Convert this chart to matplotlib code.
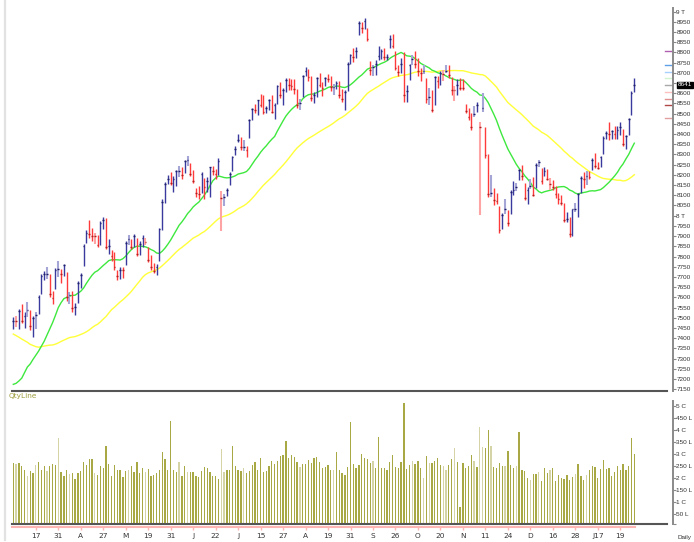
import numpy as np
import matplotlib
matplotlib.use("Agg")
import matplotlib.pyplot as plt
from matplotlib.transforms import blended_transform_factory
import pandas as pd

# ---------------- data (Nifty daily, Mar 2016 - Jan 2017) ----------------
prior_close = [7861, 7925, 7928, 7896, 7946,
               7963, 7791, 7784, 7741, 7568, 7601, 7563, 7510, 7562, 7536,
               7438, 7351, 7435, 7309, 7276, 7422, 7436, 7437, 7424, 7564,
               7555, 7455, 7362, 7404, 7489, 7387, 7298, 7216, 6976, 6981,
               7163, 7049, 7109, 7192, 7211, 7235, 7110, 7019, 6971, 7029, 6987,
               7222, 7368, 7475]

open_ = [7469, 7484, 7461, 7555, 7487, 7562, 7522, 7448, 7521, 7530,
         7628, 7686, 7731, 7708, 7626, 7648, 7753, 7718, 7715, 7720,
         7617, 7615, 7522, 7588, 7674, 7752, 7888, 7939, 7924, 7883,
         7902, 7860, 7975, 7981, 7831, 7823, 7802, 7732, 7710, 7734,
         7760, 7897, 7885, 7857, 7886, 7810, 7872, 7868, 7847, 7783,
         7766, 7736, 7781, 7956, 8076, 8166, 8188, 8163, 8158, 8233,
         8235, 8217, 8277, 8257, 8191, 8125, 8122, 8120, 8175, 8139,
         8102, 8238, 8216, 8202, 8010, 8096, 8109, 8151, 8227, 8313,
         8364, 8379, 8362, 8336, 8379, 8473, 8540, 8519, 8593, 8565,
         8520, 8541, 8588, 8503, 8559, 8654, 8590, 8620, 8674, 8653,
         8636, 8620, 8556, 8585, 8697, 8716, 8677, 8580, 8597, 8696,
         8638, 8643, 8678, 8668, 8642, 8647, 8662, 8614, 8565, 8613,
         8754, 8793, 8796, 8883, 8935, 8931, 8916, 8732, 8737, 8743,
         8780, 8789, 8806, 8776, 8819, 8857, 8807, 8737, 8716, 8792,
         8581, 8666, 8770, 8806, 8750, 8721, 8735, 8671, 8604, 8612,
         8547, 8679, 8670, 8683, 8719, 8722, 8670, 8608, 8625, 8672,
         8653, 8542, 8499, 8504, 8535, 8540, 8067, 8555, 8409, 8301,
         8162, 8111, 8106, 8033, 7935, 8051, 8012, 8020, 8112, 8143,
         8182, 8244, 8154, 8088, 8153, 8168, 8153, 8271, 8231, 8196,
         8197, 8128, 8156, 8121, 8089, 8103, 8044, 7982, 7985, 7915,
         8047, 8036, 8119, 8210, 8196, 8202, 8227, 8281, 8260, 8262,
         8300, 8406, 8457, 8410, 8415, 8404, 8419, 8412, 8329, 8402,
         8499, 8614]

high = [7504, 7511, 7542, 7570, 7526, 7576, 7538, 7507, 7530, 7613,
        7713, 7728, 7749, 7716, 7631, 7742, 7777, 7740, 7765, 7725,
        7624, 7631, 7571, 7679, 7717, 7860, 7932, 7978, 7939, 7916,
        7904, 7972, 7992, 7991, 7886, 7833, 7823, 7733, 7749, 7749,
        7874, 7907, 7888, 7911, 7893, 7874, 7904, 7892, 7848, 7808,
        7768, 7764, 7941, 8084, 8165, 8200, 8213, 8196, 8226, 8245,
        8237, 8274, 8293, 8260, 8224, 8137, 8143, 8216, 8187, 8189,
        8238, 8244, 8228, 8283, 8120, 8105, 8136, 8212, 8294, 8339,
        8398, 8385, 8369, 8340, 8474, 8527, 8548, 8569, 8594, 8590,
        8539, 8570, 8590, 8551, 8642, 8656, 8626, 8674, 8675, 8670,
        8671, 8620, 8570, 8689, 8728, 8718, 8684, 8605, 8679, 8697,
        8653, 8681, 8696, 8684, 8647, 8661, 8662, 8622, 8615, 8755,
        8792, 8820, 8824, 8953, 8947, 8968, 8920, 8758, 8740, 8764,
        8829, 8816, 8819, 8791, 8883, 8889, 8809, 8739, 8770, 8800,
        8638, 8745, 8786, 8807, 8770, 8722, 8736, 8672, 8625, 8616,
        8686, 8682, 8709, 8713, 8736, 8738, 8677, 8635, 8669, 8672,
        8669, 8547, 8529, 8504, 8536, 8559, 8460, 8599, 8432, 8304,
        8197, 8135, 8112, 8048, 8011, 8081, 8026, 8126, 8170, 8158,
        8229, 8250, 8158, 8141, 8179, 8190, 8257, 8275, 8233, 8238,
        8229, 8186, 8175, 8146, 8110, 8103, 8062, 8018, 7996, 8035,
        8062, 8110, 8195, 8213, 8219, 8219, 8282, 8306, 8263, 8294,
        8389, 8417, 8461, 8420, 8440, 8440, 8460, 8424, 8396, 8480,
        8610, 8672]

low = [7443, 7456, 7443, 7474, 7452, 7505, 7440, 7406, 7447, 7521,
       7615, 7684, 7690, 7604, 7566, 7641, 7701, 7671, 7705, 7581,
       7569, 7526, 7516, 7574, 7648, 7752, 7867, 7889, 7876, 7859,
       7847, 7858, 7935, 7836, 7810, 7777, 7736, 7683, 7690, 7697,
       7757, 7856, 7838, 7845, 7803, 7807, 7847, 7855, 7773, 7735,
       7719, 7710, 7776, 7929, 8060, 8154, 8148, 8114, 8146, 8191,
       8178, 8209, 8245, 8193, 8162, 8093, 8080, 8112, 8083, 8114,
       8094, 8197, 8178, 8199, 7927, 8046, 8095, 8151, 8218, 8297,
       8361, 8324, 8319, 8287, 8379, 8468, 8505, 8491, 8532, 8496,
       8505, 8520, 8502, 8474, 8549, 8574, 8544, 8604, 8617, 8617,
       8594, 8529, 8518, 8579, 8686, 8658, 8561, 8552, 8579, 8628,
       8584, 8633, 8653, 8612, 8593, 8620, 8578, 8557, 8518, 8613,
       8741, 8755, 8774, 8883, 8896, 8914, 8855, 8689, 8685, 8691,
       8761, 8769, 8761, 8761, 8819, 8822, 8715, 8683, 8700, 8555,
       8555, 8666, 8736, 8721, 8684, 8660, 8692, 8550, 8540, 8506,
       8542, 8625, 8639, 8662, 8700, 8672, 8593, 8560, 8590, 8617,
       8614, 8504, 8470, 8420, 8483, 8506, 8002, 8510, 8285, 8094,
       8092, 8052, 8057, 7916, 7936, 8006, 7951, 8007, 8100, 8122,
       8176, 8176, 8076, 8056, 8130, 8095, 8138, 8237, 8154, 8196,
       8177, 8127, 8125, 8089, 8055, 8052, 7970, 7971, 7894, 7903,
       8019, 7995, 8112, 8134, 8148, 8181, 8223, 8233, 8227, 8237,
       8300, 8374, 8373, 8378, 8374, 8378, 8397, 8340, 8327, 8396,
       8493, 8604]

close = [7485, 7485, 7531, 7486, 7510, 7538, 7460, 7498, 7512, 7604,
         7704, 7714, 7716, 7615, 7597, 7735, 7738, 7713, 7758, 7603,
         7614, 7546, 7555, 7671, 7708, 7850, 7914, 7912, 7899, 7899,
         7855, 7962, 7979, 7847, 7850, 7805, 7747, 7706, 7735, 7733,
         7866, 7887, 7848, 7900, 7814, 7860, 7890, 7870, 7783, 7749,
         7731, 7748, 7934, 8069, 8156, 8178, 8160, 8179, 8218, 8220,
         8201, 8266, 8273, 8203, 8170, 8110, 8108, 8206, 8140, 8170,
         8238, 8219, 8204, 8270, 8089, 8094, 8127, 8204, 8288, 8328,
         8371, 8335, 8337, 8323, 8467, 8521, 8519, 8565, 8541, 8508,
         8528, 8565, 8510, 8541, 8635, 8590, 8615, 8666, 8638, 8636,
         8622, 8544, 8551, 8683, 8711, 8678, 8575, 8592, 8672, 8642,
         8624, 8673, 8667, 8629, 8632, 8650, 8593, 8573, 8607, 8745,
         8786, 8775, 8809, 8943, 8917, 8952, 8867, 8715, 8726, 8743,
         8780, 8808, 8775, 8777, 8867, 8832, 8723, 8706, 8745, 8591,
         8611, 8738, 8769, 8743, 8709, 8697, 8708, 8573, 8583, 8520,
         8677, 8659, 8699, 8693, 8708, 8691, 8615, 8615, 8638, 8626,
         8626, 8514, 8485, 8433, 8497, 8543, 8432, 8526, 8297, 8108,
         8111, 8079, 8074, 7929, 8002, 8033, 7965, 8114, 8126, 8142,
         8224, 8192, 8086, 8128, 8143, 8102, 8246, 8261, 8170, 8221,
         8182, 8153, 8139, 8104, 8082, 8061, 7979, 7986, 7909, 8033,
         8034, 8104, 8186, 8180, 8192, 8190, 8274, 8244, 8236, 8289,
         8381, 8407, 8400, 8413, 8398, 8418, 8435, 8349, 8392, 8476,
         8603, 8641]

# volume in crore shares
volume = [2.62, 2.59, 2.63, 2.49, 2.31, 2.09, 2.27, 2.20, 2.54, 2.68,
          2.33, 2.49, 2.27, 2.49, 2.59, 2.55, 3.66, 2.26, 2.08, 2.35,
          2.17, 2.22, 1.96, 2.21, 2.27, 2.66, 2.55, 2.79, 2.79, 2.21,
          2.12, 2.51, 2.43, 3.35, 2.57, 2.09, 2.55, 2.31, 2.34, 2.02,
          2.29, 2.31, 2.49, 2.24, 2.66, 2.21, 2.43, 2.24, 2.37, 2.09,
          2.12, 2.20, 2.33, 3.07, 2.79, 2.31, 4.40, 2.33, 2.24, 2.66,
          2.09, 2.51, 2.24, 2.26, 2.24, 2.09, 2.04, 2.27, 2.47, 2.41,
          2.25, 2.09, 2.09, 1.96, 3.21, 2.26, 2.31, 2.34, 3.35, 2.51,
          2.33, 2.30, 2.43, 2.21, 2.30, 2.54, 2.68, 2.33, 2.83, 2.26,
          2.27, 2.49, 2.72, 2.59, 2.70, 2.91, 2.95, 3.54, 2.84, 2.95,
          2.87, 2.68, 2.45, 2.59, 2.59, 2.76, 2.62, 2.84, 2.88, 2.67,
          2.41, 2.47, 2.54, 2.31, 2.33, 3.08, 2.33, 2.20, 2.14, 2.47,
          4.35, 2.59, 2.41, 2.54, 3.02, 2.83, 2.79, 2.61, 2.70, 2.41,
          3.70, 2.41, 2.41, 2.33, 2.66, 2.95, 2.47, 2.41, 2.66, 5.13,
          2.38, 2.54, 2.70, 2.59, 2.72, 2.42, 1.98, 2.90, 2.61, 2.64,
          2.71, 2.82, 2.54, 2.51, 2.35, 2.55, 2.80, 3.25, 2.67, 0.77,
          2.61, 2.40, 2.51, 2.98, 2.70, 2.46, 4.14, 3.29, 3.24, 4.02,
          3.33, 2.46, 2.40, 2.62, 2.51, 2.51, 3.13, 2.54, 2.41, 2.51,
          3.93, 2.33, 2.27, 2.01, 1.93, 2.18, 2.18, 2.25, 1.88, 2.41,
          2.21, 2.31, 2.42, 1.86, 2.12, 1.98, 1.94, 2.12, 1.92, 2.04,
          2.18, 2.58, 2.06, 1.92, 2.14, 2.34, 2.50, 2.45, 1.98, 2.38,
          2.75, 2.38, 2.41, 2.06, 2.25, 2.51, 2.34, 2.58, 2.31, 2.50,
          3.68, 3.00]

tick_bars = [8, 16, 24, 32, 40, 48, 56, 64, 72, 80, 88, 96, 104, 112, 120,
             128, 136, 144, 152, 160, 168, 176, 184, 192, 200, 208, 216]
tick_text = ["17", "31", "A", "27", "M", "19", "31", "J", "22", "J", "15", "27",
             "A", "19", "31", "S", "26", "O", "20", "N", "11", "24", "D", "16",
             "28", "J17", "19"]

price_ticks = list(range(7150, 9001, 50))
vol_ticks = [0.5, 1.0, 1.5, 2.0, 2.5, 3.0, 3.5, 4.0, 4.5, 5.0]
vol_tick_text = ["50 L", "1 C", "150 L", "2 C", "250 L", "3 C", "350 L", "4 C", "450 L", "5 C"]

marker_levels = [8807, 8737, 8704, 8672, 8641, 8606, 8572, 8541, 8477]
marker_colors = ["#b060b0", "#5f9fe8", "#a8d0ff", "#d0f5d0", "#a8a8a8",
                 "#ffc0c0", "#e09090", "#b04848", "#e0a0a0"]
last_label = "8641"

# ---------------- derived ----------------
n = len(close)
xs = np.arange(n)
allc = pd.Series(prior_close + close)
ma20 = allc.rolling(20).mean().to_numpy()[len(prior_close):]
ma50 = allc.rolling(50).mean().to_numpy()[len(prior_close):]
prev = np.array([prior_close[-1]] + close[:-1])
c = np.array(close); o = np.array(open_)
up = c > prev
light = (up & (c < o)) | (~up & (c > o))

# ---------------- layout ----------------
W, H = 694, 542
fig = plt.figure(figsize=(W / 100, H / 100), dpi=100)
def fx(p): return p / W
def fy(p): return 1 - p / H

X0, PX = 13.3, 2.81
def xlims(l, r): return ((l - X0) / PX, (r - X0) / PX)

FAM = ["Liberation Sans", "DejaVu Sans"]
FS = 4.6
TXT = "#333333"
AXC = "#8a8a8a"
AX_R = 673          # pixel x of the right value axis line
OUT = (AX_R - 667) * 0.72

# price axes
ptop, pbot = 8, 391
K, Y9 = 0.2042, 11.5
ax = fig.add_axes([fx(12), fy(pbot), fx(667) - fx(12), fy(ptop) - fy(pbot)])
ax.set_xlim(*xlims(12, 667))
ax.set_ylim(9000 - (pbot - Y9) / K, 9000 + (Y9 - ptop) / K)

up_dark, up_light = "#3a3a9e", "#a6a6d6"
dn_dark, dn_light = "#ff3a3a", "#ffa4a4"
cols = [(up_light if l else up_dark) if u else (dn_light if l else dn_dark) for u, l in zip(up, light)]
lws = [1.5 if l else 1.0 for l in light]
ax.vlines(xs, low, high, colors=cols, linewidths=lws, zorder=3)
tcols = ["#20206a" if u else "#b02020" for u in up]
ax.hlines(close, xs - 0.3, xs + 0.3, colors=tcols, linewidths=1.0, zorder=4)

ax.plot(xs, ma50, color="#ffff3a", lw=1.0, zorder=2)
ax.plot(xs, ma20, color="#3ee83e", lw=1.0, zorder=2)

for s in ["top", "left"]:
    ax.spines[s].set_visible(False)
ax.spines["bottom"].set_color("#555555")
ax.spines["bottom"].set_linewidth(1.5)
ax.spines["right"].set_position(("outward", OUT))
ax.spines["right"].set_color(AXC)
ax.spines["right"].set_linewidth(1.4)
ax.set_xticks([])
ax.yaxis.tick_right()
ax.set_yticks(price_ticks)
plabels = []
for v in price_ticks:
    if v == 9000:
        plabels.append("9 T")
    elif v == 8000:
        plabels.append("8 T")
    elif v == 8650:
        plabels.append("")
    else:
        plabels.append(str(v))
ax.set_yticklabels(plabels, fontsize=FS, color=TXT, family=FAM)
ax.tick_params(axis="y", direction="out", length=1.8, width=0.8, color=AXC, pad=0.6)

# right-side markers
tr = blended_transform_factory(fig.transFigure, ax.transData)
for lv, cc in zip(marker_levels, marker_colors):
    ax.plot([fx(AX_R - 8), fx(AX_R - 1.5)], [lv, lv], color=cc, lw=1.0, transform=tr, clip_on=False)
ax.text(fx(AX_R + 4.5), close[-1], last_label, transform=tr, fontsize=FS, color="white",
        va="center", ha="left", clip_on=False, family=FAM,
        bbox=dict(boxstyle="square,pad=0.12", fc="black", ec="black"))

# volume axes
vtop, vbot = 393, 524
VK, V0 = 25.2, 533.3
axv = fig.add_axes([fx(12), fy(vbot), fx(667) - fx(12), fy(vtop) - fy(vbot)])
axv.set_xlim(*xlims(12, 667))
axv.set_ylim((V0 - vbot) / VK, (V0 - vtop) / VK)
vdark, vlight = "#a8a844", "#d4d4a6"
axv.bar(xs, volume, width=0.46, bottom=0, color=[vlight if l else vdark for l in light], zorder=2)
for s in ["top", "left"]:
    axv.spines[s].set_visible(False)
axv.spines["bottom"].set_color("#555555")
axv.spines["bottom"].set_linewidth(1.5)
axv.spines["right"].set_position(("outward", OUT))
axv.spines["right"].set_color(AXC)
axv.spines["right"].set_linewidth(1.4)
axv.spines["right"].set_bounds(0.05, 5.25)
axv.set_xticks([])
axv.yaxis.tick_right()
axv.set_yticks([0.06] + vol_ticks)
axv.set_yticklabels([""] + vol_tick_text, fontsize=FS, color=TXT, family=FAM)
axv.tick_params(axis="y", direction="out", length=1.8, width=0.8, color=AXC, pad=0.6)
for t in axv.yaxis.get_major_ticks():
    t.tick1line.set_clip_on(False); t.tick2line.set_clip_on(False)

# date strip
axx = fig.add_axes([fx(12), fy(527), fx(635) - fx(12), 0.0001])
axx.set_xlim(*xlims(12, 635))
for s in ["top", "left", "right"]:
    axx.spines[s].set_visible(False)
axx.spines["bottom"].set_color("#ffb4b4")
axx.spines["bottom"].set_linewidth(1.5)
axx.set_yticks([])
axx.set_xticks(tick_bars)
axx.set_xticklabels(tick_text, fontsize=5.3, color=TXT)
axx.tick_params(axis="x", direction="out", length=2.5, width=1.0, color="#ffb4b4", pad=1.5)

fig.text(fx(9), fy(396), "QtyLine", fontsize=5.3, color="#9c9c3c", va="center", ha="left")
fig.text(fx(AX_R + 4), fy(537), "Daily", fontsize=FS, color=TXT, va="center", ha="left", family=FAM)
fig.add_artist(plt.Line2D([fx(5), fx(5)], [fy(0), fy(540)], color="#e2e2e2", lw=1.6,
                          transform=fig.transFigure))

fig.savefig("out.png", dpi=100)
